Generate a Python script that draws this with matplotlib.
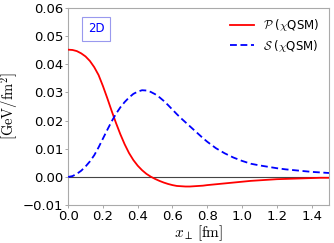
import matplotlib
matplotlib.use("Agg")
import matplotlib.pyplot as plt

plt.rcParams['mathtext.fontset'] = 'cm'
plt.rcParams['font.family'] = ['DejaVu Sans']

x_fm = [0.000, 0.025, 0.050, 0.075, 0.100, 0.125, 0.150, 0.175, 0.200, 0.225,
        0.250, 0.275, 0.300, 0.325, 0.350, 0.375, 0.400, 0.425, 0.450, 0.475,
        0.500, 0.525, 0.550, 0.575, 0.600, 0.625, 0.650, 0.675, 0.700, 0.725,
        0.750, 0.775, 0.800, 0.850, 0.900, 0.950, 1.000, 1.050, 1.100, 1.150,
        1.200, 1.250, 1.300, 1.350, 1.400, 1.450, 1.500]

P_vals = [0.0452, 0.0451, 0.0447, 0.0439, 0.0428, 0.0412, 0.0390, 0.0362, 0.0323, 0.0280,
          0.0235, 0.0192, 0.0152, 0.0116, 0.0085, 0.0060, 0.0040, 0.0024, 0.0011, 0.0001,
          -0.0007, -0.0014, -0.0020, -0.0025, -0.0029, -0.0032, -0.0033, -0.0034, -0.0034, -0.0033,
          -0.0032, -0.0031, -0.0029, -0.0026, -0.0023, -0.0020, -0.0017, -0.0014, -0.0012, -0.0010,
          -0.0008, -0.0007, -0.0006, -0.0005, -0.0004, -0.0003, -0.0003]

S_vals = [0.0000, 0.0003, 0.0011, 0.0022, 0.0037, 0.0055, 0.0077, 0.0105, 0.0136, 0.0167,
          0.0197, 0.0224, 0.0247, 0.0266, 0.0282, 0.0295, 0.0303, 0.0308, 0.0307, 0.0302,
          0.0294, 0.0283, 0.0270, 0.0255, 0.0239, 0.0223, 0.0208, 0.0194, 0.0180, 0.0166,
          0.0152, 0.0138, 0.0125, 0.0102, 0.0084, 0.0069, 0.0057, 0.0047, 0.0041, 0.0036,
          0.0031, 0.0027, 0.0024, 0.0021, 0.0018, 0.0016, 0.0014]

labels = [r'$\mathcal{P}$ ($\chi$QSM)', r'$\mathcal{S}$ ($\chi$QSM)']
xticks = [0.0, 0.2, 0.4, 0.6, 0.8, 1.0, 1.2, 1.4]
yticks = [-0.01, 0.00, 0.01, 0.02, 0.03, 0.04, 0.05, 0.06]

fig = plt.figure(figsize=(3.34, 2.43), dpi=100)
ax = fig.add_axes([0.204, 0.156, 0.781, 0.811])

ax.axhline(0, color='#444444', lw=0.8, zorder=1)
ax.plot(x_fm, P_vals, color='red', lw=1.3, label=labels[0], zorder=3)
ax.plot(x_fm, S_vals, color='blue', lw=1.3, ls='--', dashes=(3.8, 2.0), label=labels[1], zorder=3)

ax.set_xlim(0, 1.5)
ax.set_ylim(-0.01, 0.06)
ax.set_xticks(xticks)
ax.set_yticks(yticks)
ax.set_xticklabels([f'{t:.1f}' for t in xticks])
ax.set_yticklabels([f'{t:.2f}'.replace('-', '\u2212') for t in yticks])
ax.tick_params(labelsize=9.5, length=2.5, width=0.6, color='#999999', pad=1.0)
for s in ax.spines.values():
    s.set_color('#aaaaaa')
    s.set_linewidth(0.8)

ax.set_xlabel(r'$x_\perp\,[\mathrm{fm}]$', fontsize=11, labelpad=0)
ax.set_ylabel(r'$[\mathrm{GeV/fm^2}]$', fontsize=10.5, labelpad=1)

ax.text(0.107, 0.894, '2D', transform=ax.transAxes, color='blue', fontsize=8.5,
        ha='center', va='center',
        bbox=dict(boxstyle='square,pad=0.45', fc='white', ec='#9999ee', lw=0.8))

leg = ax.legend(loc='upper right', frameon=False, fontsize=8.5, handlelength=2.0,
                borderaxespad=0.4, labelspacing=0.35, handletextpad=0.8)

fig.savefig('out.png', dpi=100)
